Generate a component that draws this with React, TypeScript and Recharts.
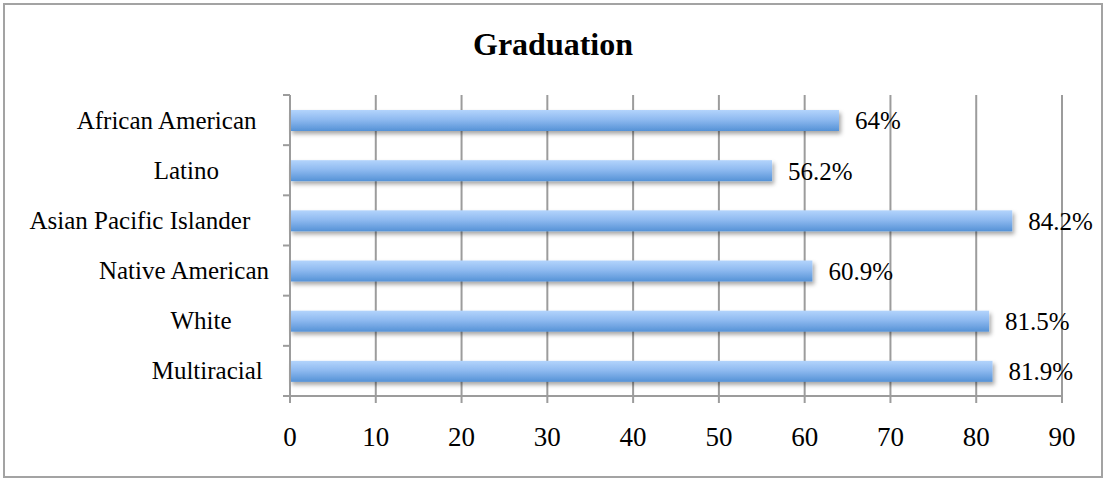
import React from 'react';
import { BarChart, Bar, XAxis, YAxis, CartesianGrid, LabelList } from 'recharts';

const categories = [
  'African American  ',
  'Latino        ',
  'Asian Pacific Islander   ',
  'Native American',
  'White      ',
  'Multiracial ',
];
const graduationRates = [64, 56.2, 84.2, 60.9, 81.5, 81.9];
const xTicks = [0, 10, 20, 30, 40, 50, 60, 70, 80, 90];
const title = 'Graduation';

const data = categories.map((name, i) => ({ name, value: graduationRates[i] }));

const FONT = '"Liberation Serif", "Times New Roman", serif';
const GRAY = '#9c9c9c';
const Y_TICK_SIZE = 7;
const Y_TICK_MARGIN = 14;

const YTick = (props: any) => {
  const { x, y, payload } = props;
  const half = payload && payload.offset ? payload.offset : 25;
  const axisX = x + Y_TICK_SIZE + Y_TICK_MARGIN;
  const isLast = payload && payload.index === categories.length - 1;
  return (
    <g>
      <line x1={axisX - Y_TICK_SIZE} x2={axisX} y1={y - half} y2={y - half} stroke={GRAY} strokeWidth={2} />
      {isLast && (
        <line x1={axisX - Y_TICK_SIZE} x2={axisX} y1={y + half} y2={y + half} stroke={GRAY} strokeWidth={2} />
      )}
      <text
        x={x}
        y={y}
        dy="0.34em"
        textAnchor="end"
        fontFamily={FONT}
        fontSize={25}
        fill="#000"
        style={{ whiteSpace: 'pre' }}
      >
        {payload.value}
      </text>
    </g>
  );
};

const BarShape = (p: any) => (
  <rect x={p.x} y={p.y} width={p.width} height={p.height} fill="url(#barGrad)" filter="url(#barShadow)" />
);

export default function App() {
  return (
    <div style={{ position: 'absolute', left: 0, top: 0, width: 1106, height: 481, background: '#fff' }}>
      <div
        style={{
          position: 'absolute',
          left: 3,
          top: 3,
          width: 1100,
          height: 475,
          border: '2px solid #a3a3a3',
          boxSizing: 'border-box',
        }}
      />
      <div
        style={{
          position: 'absolute',
          left: 0,
          top: 28,
          width: 1106,
          textAlign: 'center',
          fontFamily: FONT,
          fontWeight: 'bold',
          fontSize: 32,
          lineHeight: '32px',
          color: '#000',
        }}
      >
        {title}
      </div>
      <div style={{ position: 'absolute', left: 0, top: 0 }}>
        <BarChart
          width={1106}
          height={481}
          data={data}
          layout="vertical"
          margin={{ top: 95, right: 44, bottom: 25, left: 0 }}
          barSize={21}
        >
          <defs>
            <linearGradient id="barGrad" x1="0" y1="0" x2="0" y2="1">
              <stop offset="0%" stopColor="#b3d4fc" />
              <stop offset="45%" stopColor="#8fbaf0" />
              <stop offset="100%" stopColor="#5592d6" />
            </linearGradient>
            <filter id="barShadow" x="-5%" y="-50%" width="110%" height="220%">
              <feDropShadow dx="2" dy="3" stdDeviation="2" floodColor="#000" floodOpacity="0.35" />
            </filter>
          </defs>
          <CartesianGrid horizontal={false} vertical stroke={GRAY} strokeWidth={2} />
          <XAxis
            type="number"
            domain={[0, 90]}
            ticks={xTicks}
            interval={0}
            height={60}
            axisLine={{ stroke: GRAY, strokeWidth: 2 }}
            tickLine={{ stroke: GRAY, strokeWidth: 2 }}
            tickSize={7}
            tickMargin={24}
            tick={{ fontFamily: FONT, fontSize: 27, fill: '#000' }}
          />
          <YAxis
            type="category"
            dataKey="name"
            width={290}
            axisLine={{ stroke: GRAY, strokeWidth: 2 }}
            tickLine={false}
            tickSize={Y_TICK_SIZE}
            tickMargin={Y_TICK_MARGIN}
            interval={0}
            tick={<YTick />}
          />
          <Bar dataKey="value" isAnimationActive={false} shape={<BarShape />}>
            <LabelList
              dataKey="value"
              position="right"
              offset={16}
              formatter={(v: any) => `${v}%`}
              style={{ fontFamily: FONT, fontSize: 25, fill: '#000' }}
            />
          </Bar>
        </BarChart>
      </div>
    </div>
  );
}
